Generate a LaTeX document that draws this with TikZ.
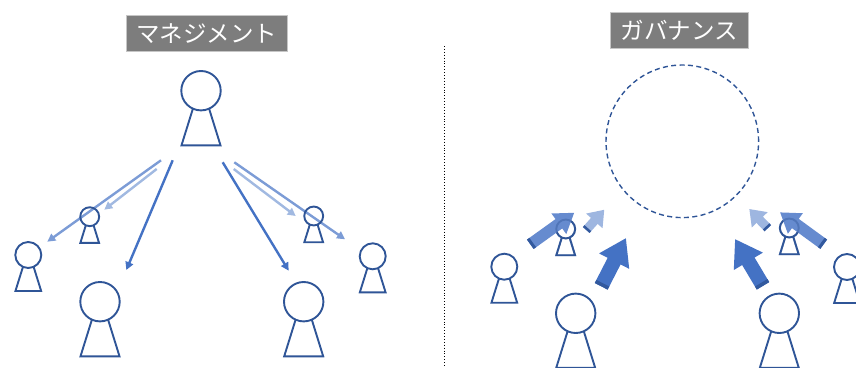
\documentclass[tikz,border=0pt]{standalone}
\usepackage{fontspec}
\newfontfamily\cjk{Noto Sans CJK JP}
\usetikzlibrary{arrows.meta,calc}
\definecolor{personblue}{HTML}{2F5597}
\definecolor{arrowblue}{HTML}{4472C4}
\tikzset{
  person/.pic={
    \draw[personblue,line width=1.9pt] (0,0) circle (19.7);
    \draw[personblue,line width=1.9pt,line join=miter] (-8.2,18.3) -- (-19.5,54.6) -- (19.5,54.6) -- (8.2,18.3);
  },
  titlebox/.style={fill=gray!98!black,draw=gray!45,line width=0.8pt,text=white,inner sep=0pt,font=\cjk\fontsize{23.5}{25}\selectfont},
  thinarrow/.style={line width=2.4pt,-{Triangle[length=8pt,width=8pt]}},
  bigblock/.style={arrowblue,line width=14.5pt,-{Triangle[length=26pt,width=32pt]}},
  midblock/.style={arrowblue!82!white,line width=11.5pt,-{Triangle[length=19pt,width=24pt]}},
  smallblock/.style={arrowblue!52!white,line width=9pt,-{Triangle[length=15pt,width=21pt]}},
  tailband/.style={personblue!85!arrowblue}
}
\begin{document}
\begin{tikzpicture}[x=1pt,y=-1pt,line cap=butt]
\clip (0,0) rectangle (856,367);
% titles
\node[titlebox,minimum width=161pt,minimum height=36pt] (mgmt) at (206.6,33.2) {マネジメント};
\node[titlebox,minimum width=138pt,minimum height=36pt] (gov) at (679.2,30.3) {ガバナンス};
% divider
\coordinate (divtop) at (444.3,46);
\coordinate (divbot) at (444.3,367);
\draw[black,line width=0.9pt,dotted,line cap=butt] (divtop) -- (divbot);
% left side
\coordinate (a1) at (172.7,160.3);
\coordinate (b1) at (126.3,270);
\coordinate (a2) at (222.7,162.3);
\coordinate (b2) at (288.7,270.7);
\coordinate (a3) at (161,160.3);
\coordinate (b3) at (47.3,241.7);
\coordinate (a4) at (234.3,162.3);
\coordinate (b4) at (345,239.3);
\coordinate (a5) at (156.7,169);
\coordinate (b5) at (104.3,209.7);
\coordinate (a6) at (233.7,169);
\coordinate (b6) at (295.7,216);
\draw[thinarrow,arrowblue] (a1) -- (b1);
\draw[thinarrow,arrowblue] (a2) -- (b2);
\draw[thinarrow,arrowblue!70!white] (a3) -- (b3);
\draw[thinarrow,arrowblue!70!white] (a4) -- (b4);
\draw[thinarrow,arrowblue!50!white] (a5) -- (b5);
\draw[thinarrow,arrowblue!50!white] (a6) -- (b6);
\pic (top) at (201,90.7) {person};
\pic (bigl) at (100,301.7) {person};
\pic (bigr) at (303.7,301.7) {person};
\pic[scale=0.66] (midl) at (28.3,255) {person};
\pic[scale=0.66] (midr) at (372.7,256.3) {person};
\pic[scale=0.48] (tinyl) at (89.7,216.7) {person};
\pic[scale=0.48] (tinyr) at (313.7,216) {person};
% right side
\node[circle,draw=personblue,line width=1.4pt,dash pattern=on 5pt off 3.4pt,minimum size=152.6pt,inner sep=0pt] (core) at (682.3,141.3) {};
\coordinate (c1) at (601.2,286.3);
\coordinate (d1) at (626,238);
\coordinate (c2) at (763,285.8);
\coordinate (d2) at (735,239);
\coordinate (c3) at (530.3,244.3);
\coordinate (d3) at (574.3,212.7);
\coordinate (c4) at (823.7,244.2);
\coordinate (d4) at (780,212.3);
\coordinate (c5) at (586.2,230);
\coordinate (d5) at (604.3,209.7);
\coordinate (c6) at (767.8,228.2);
\coordinate (d6) at (749.3,209);
\pic[scale=0.48] (gtinyl) at (565.7,229) {person};
\pic[scale=0.48] (gtinyr) at (789.3,228) {person};
\draw[bigblock] (c1) -- (d1);
\draw[bigblock] (c2) -- (d2);
\draw[midblock] (c3) -- (d3);
\draw[midblock] (c4) -- (d4);
\draw[smallblock] (c5) -- (d5);
\draw[smallblock] (c6) -- (d6);
\draw[tailband,line width=14.5pt] (c1) -- ($(c1)!3.5pt!(d1)$);
\draw[tailband,line width=14.5pt] (c2) -- ($(c2)!3.5pt!(d2)$);
\draw[tailband,line width=11.5pt] (c3) -- ($(c3)!3pt!(d3)$);
\draw[tailband,line width=11.5pt] (c4) -- ($(c4)!3pt!(d4)$);
\draw[tailband,line width=9pt] (c5) -- ($(c5)!2.5pt!(d5)$);
\draw[tailband,line width=9pt] (c6) -- ($(c6)!2.5pt!(d6)$);
\pic[scale=0.48,opacity=0.4] (gtinyla) at (565.7,229) {person};
\pic[scale=0.48,opacity=0.4] (gtinyra) at (789.3,228) {person};
\pic (gbigl) at (575.7,313.3) {person};
\pic (gbigr) at (779.3,313.3) {person};
\pic[scale=0.66] (gmidl) at (504.3,266.7) {person};
\pic[scale=0.66] (gmidr) at (847,267) {person};
\end{tikzpicture}
\end{document}
